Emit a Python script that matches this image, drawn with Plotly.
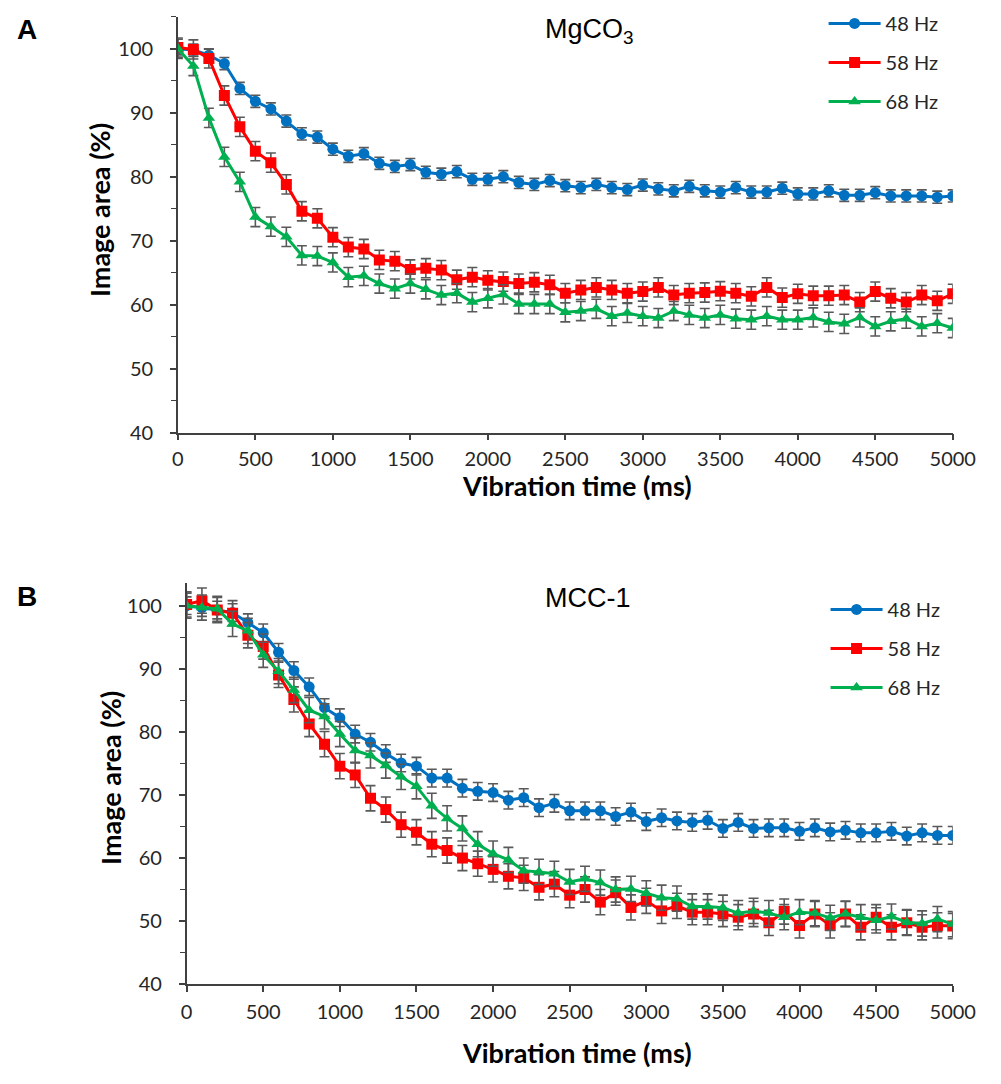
import plotly.graph_objects as go

W, H = 1001, 1084

time_ms = list(range(0, 5001, 100))
series_names = ["48 Hz", "58 Hz", "68 Hz"]
colors = ["#0070C0", "#FF0000", "#00B050"]
symbols = ["circle", "square", "triangle-up"]

# Panel A: MgCO3
a_48 = [100, 99.8, 99.0, 97.7, 93.8, 91.8, 90.6, 88.7, 86.7, 86.2, 84.3, 83.2, 83.6, 82.1, 81.6, 81.9,
        80.7, 80.4, 80.8, 79.6, 79.6, 80.0, 79.1, 78.8, 79.4, 78.6, 78.3, 78.8, 78.3, 78.0, 78.7,
        78.1, 77.8, 78.5, 77.8, 77.6, 78.3, 77.6, 77.6, 78.2, 77.3, 77.3, 77.8, 77.1, 77.1, 77.5,
        77.0, 77.0, 77.0, 76.8, 77.0]
a_58 = [100.2, 99.9, 98.5, 92.7, 87.8, 84.0, 82.2, 78.8, 74.6, 73.5, 70.55, 69.0, 68.7, 67.0, 66.8, 65.5,
        65.7, 65.4, 63.9, 64.3, 63.8, 63.6, 63.3, 63.5, 63.1, 61.8, 62.3, 62.7, 62.3, 61.8, 62.05,
        62.7, 61.5, 61.8, 61.9, 62.1, 61.8, 61.3, 62.7, 61.1, 61.7, 61.4, 61.4, 61.5, 60.4, 62.05,
        61.0, 60.4, 61.5, 60.6, 61.7]
a_68 = [100, 97.3, 89.2, 83.1, 79.2, 73.7, 72.2, 70.6, 67.7, 67.6, 66.6, 64.3, 64.5, 63.3, 62.5, 63.3,
        62.4, 61.5, 61.8, 60.4, 61.0, 61.6, 60.1, 60.1, 60.1, 58.8, 59.0, 59.35, 58.2, 58.7, 58.2,
        57.9, 59.0, 58.4, 57.9, 58.4, 57.8, 57.65, 58.2, 57.65, 57.65, 58.0, 57.3, 57.0, 58.0, 56.6,
        57.4, 57.8, 56.6, 57.1, 56.35]
a_err = [0.95, 1.5, 1.5]

# Panel B: MCC-1
b_48 = [100.1, 99.8, 99.4, 99.0, 97.4, 95.8, 92.7, 89.8, 87.2, 83.9, 82.3, 79.7, 78.4, 76.6, 75.1, 74.6,
        72.7, 72.7, 71.1, 70.6, 70.4, 69.2, 69.6, 68.0, 68.7, 67.5, 67.5, 67.5, 66.6, 67.3, 65.8,
        66.4, 65.9, 65.65, 66.0, 64.7, 65.65, 64.7, 64.8, 64.8, 64.25, 64.8, 64.15, 64.4, 64.0, 64.0,
        64.25, 63.5, 64.0, 63.6, 63.6]
b_58 = [100.3, 100.9, 99.4, 98.9, 95.4, 93.6, 89.1, 85.2, 81.3, 78.1, 74.6, 73.2, 69.5, 67.7, 65.3, 64.1,
        62.2, 61.2, 60.0, 59.1, 58.2, 57.1, 56.85, 55.35, 55.85, 54.1, 55.0, 53.0, 54.5, 52.15, 53.2,
        51.6, 52.4, 51.4, 51.4, 51.1, 50.6, 51.1, 49.7, 51.5, 49.3, 51.1, 49.3, 51.1, 49.0, 50.6,
        49.0, 49.7, 49.0, 49.3, 49.2]
b_68 = [100.1, 99.8, 99.6, 97.2, 96.1, 92.3, 89.7, 86.7, 83.5, 82.5, 79.7, 77.1, 76.3, 74.7, 72.9, 71.4,
        68.3, 66.3, 64.7, 62.2, 60.7, 59.7, 58.0, 57.8, 57.5, 56.2, 56.7, 56.1, 55.0, 55.1, 54.4,
        53.7, 53.55, 52.3, 52.3, 52.1, 51.25, 51.6, 51.25, 50.6, 51.4, 51.25, 50.5, 51.15, 50.6, 50.1,
        50.7, 49.8, 49.6, 50.3, 49.5]
b_err = [1.4, 2.0, 2.0]

x_ticks = list(range(0, 5001, 500))
y_ticks = list(range(40, 101, 10))

fig = go.Figure()

def px_x(p):
    return p / W

def px_y(p):
    return 1 - p / H

panels = [
    dict(data=[a_48, a_58, a_68], err=a_err, xa="x", ya="y", legend="legend"),
    dict(data=[b_48, b_58, b_68], err=b_err, xa="x2", ya="y2", legend="legend2"),
]

for p in panels:
    for i, vals in enumerate(p["data"]):
        fig.add_trace(go.Scatter(
            x=time_ms, y=vals, name=series_names[i],
            mode="lines+markers", xaxis=p["xa"], yaxis=p["ya"],
            legend=p["legend"], legendgroup=p["legend"] + str(i),
            line=dict(color=colors[i], width=3),
            marker=dict(symbol=symbols[i], color=colors[i],
                        size=11, line=dict(width=0)),
            error_y=dict(type="constant", value=p["err"][i], color="#595959",
                         thickness=1.6, width=5),
        ))

tick_font = dict(family="Lato, Open Sans, sans-serif", size=20, color="#262626")
axis_common = dict(showgrid=False, zeroline=False, showline=True, linewidth=1.5,
                   linecolor="#404040", ticks="outside", ticklen=6, tickwidth=1.5,
                   tickcolor="#404040", tickfont=tick_font)

legend_font = dict(family="Lato, Open Sans, sans-serif", size=20, color="#262626")

fig.update_layout(
    width=W, height=H,
    margin=dict(l=0, r=0, t=0, b=0),
    plot_bgcolor="white", paper_bgcolor="white",
    showlegend=True,
    xaxis=dict(domain=[px_x(177), px_x(975)], range=[0, 5000], anchor="y",
               tickvals=x_ticks, ticklabelstandoff=2, **axis_common),
    yaxis=dict(domain=[px_y(437), px_y(17)], range=[40, 105], anchor="x",
               tickvals=y_ticks, ticklabelstandoff=13,
               minor=dict(dtick=5, ticks="outside", ticklen=5, tickcolor="#404040", tickwidth=1.2),
               **axis_common),
    xaxis2=dict(domain=[px_x(186), px_x(975)], range=[0, 5000], anchor="y2",
                tickvals=x_ticks, ticklabelstandoff=3, **axis_common),
    yaxis2=dict(domain=[px_y(994), px_y(589)], range=[40, 103.7], anchor="x2",
                tickvals=y_ticks, ticklabelstandoff=13,
                minor=dict(dtick=5, ticks="outside", ticklen=5, tickcolor="#404040", tickwidth=1.2),
                **axis_common),
    legend=dict(x=px_x(842), y=px_y(4), xanchor="left", yanchor="top",
                font=legend_font, itemwidth=52, tracegroupgap=10, bgcolor="rgba(0,0,0,0)"),
    legend2=dict(x=px_x(844), y=px_y(596), xanchor="left", yanchor="top",
                 font=legend_font, itemwidth=52, tracegroupgap=10, bgcolor="rgba(0,0,0,0)"),
)

bold_font = dict(family="Lato, Open Sans, sans-serif", size=27, color="#000000")
annots = [
    dict(text="<b>A</b>", x=px_x(9), y=px_y(30), xanchor="left", yanchor="middle",
         font=dict(family="Liberation Sans, Arial, sans-serif", size=28, color="#000")),
    dict(text="<b>B</b>", x=px_x(9), y=px_y(603), xanchor="left", yanchor="middle",
         font=dict(family="Liberation Sans, Arial, sans-serif", size=28, color="#000")),
    dict(text="MgCO<sub>3</sub>", x=px_x(553), y=px_y(31), xanchor="left", yanchor="middle",
         font=dict(family="Liberation Sans, Arial, sans-serif", size=27, color="#000")),
    dict(text="MCC-1", x=px_x(553), y=px_y(604), xanchor="left", yanchor="middle",
         font=dict(family="Liberation Sans, Arial, sans-serif", size=27, color="#000")),
    dict(text="<b>Vibration time (ms)</b>", x=px_x(588), y=px_y(490), xanchor="center", yanchor="middle",
         font=bold_font),
    dict(text="<b>Vibration time (ms)</b>", x=px_x(588), y=px_y(1063), xanchor="center", yanchor="middle",
         font=bold_font),
    dict(text="<b>Image area (%)</b>", x=px_x(97), y=px_y(212), xanchor="center", yanchor="middle",
         textangle=-90, font=bold_font),
    dict(text="<b>Image area (%)</b>", x=px_x(107), y=px_y(786), xanchor="center", yanchor="middle",
         textangle=-90, font=bold_font),
]
for a in annots:
    a.update(xref="paper", yref="paper", showarrow=False)
fig.update_layout(annotations=annots)

fig.write_html("out.html")
